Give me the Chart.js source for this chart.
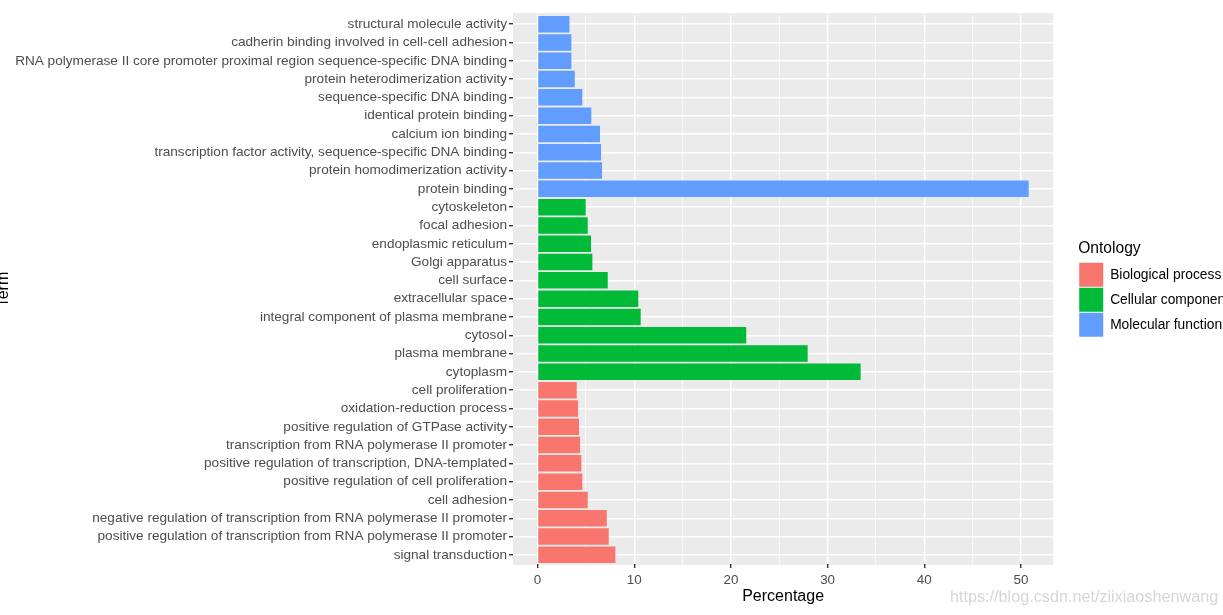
<!DOCTYPE html>
<html>
<head>
<meta charset="utf-8">
<script src="https://cdn.jsdelivr.net/npm/chart.js@4.4.1/dist/chart.umd.min.js"></script>
<style>
  html, body { margin: 0; padding: 0; background: #fff; overflow: hidden; }
  #wrap { position: relative; width: 1223px; height: 615px; overflow: hidden; }
  #mark { position: absolute; left: 950px; top: 587px; font: 16.2px "Liberation Sans", Arial, sans-serif; color: #d6d6d6; white-space: nowrap; }
</style>
</head>
<body>
<div id="wrap">
  <canvas id="myChart" width="1239" height="615"></canvas>
  <div id="mark">https://blog.csdn.net/ziixiaoshenwang</div>
</div>
<script>
// terms from top to bottom of the plot
const terms = [
    'structural molecule activity',
    'cadherin binding involved in cell-cell adhesion',
    'RNA polymerase II core promoter proximal region sequence-specific DNA binding',
    'protein heterodimerization activity',
    'sequence-specific DNA binding',
    'identical protein binding',
    'calcium ion binding',
    'transcription factor activity, sequence-specific DNA binding',
    'protein homodimerization activity',
    'protein binding',
    'cytoskeleton',
    'focal adhesion',
    'endoplasmic reticulum',
    'Golgi apparatus',
    'cell surface',
    'extracellular space',
    'integral component of plasma membrane',
    'cytosol',
    'plasma membrane',
    'cytoplasm',
    'cell proliferation',
    'oxidation-reduction process',
    'positive regulation of GTPase activity',
    'transcription from RNA polymerase II promoter',
    'positive regulation of transcription, DNA-templated',
    'positive regulation of cell proliferation',
    'cell adhesion',
    'negative regulation of transcription from RNA polymerase II promoter',
    'positive regulation of transcription from RNA polymerase II promoter',
    'signal transduction',
];

const ontology = [
    'Molecular function', 'Molecular function', 'Molecular function', 'Molecular function', 'Molecular function',
    'Molecular function', 'Molecular function', 'Molecular function', 'Molecular function', 'Molecular function',
    'Cellular component', 'Cellular component', 'Cellular component', 'Cellular component', 'Cellular component',
    'Cellular component', 'Cellular component', 'Cellular component', 'Cellular component', 'Cellular component',
    'Biological process', 'Biological process', 'Biological process', 'Biological process', 'Biological process',
    'Biological process', 'Biological process', 'Biological process', 'Biological process', 'Biological process',
];

const percentage = [
    3.3, 3.5, 3.5, 3.85, 4.63, 5.56, 6.46, 6.57, 6.67, 50.8,
    4.98, 5.19, 5.53, 5.67, 7.26, 10.42, 10.67, 21.59, 27.94, 33.42,
    4.05, 4.19, 4.29, 4.4, 4.53, 4.63, 5.19, 7.16, 7.36, 8.05,
];

const groups = ['Biological process', 'Cellular component', 'Molecular function'];
const groupColors = ['#F8766D', '#00BA38', '#619CFF'];

const xTicks = [0, 10, 20, 30, 40, 50];
const xMinorTicks = [5, 15, 25, 35, 45];

const FONT = '"Liberation Sans", Arial, sans-serif';

const datasets = groups.map((g, k) => ({
    label: g,
    data: percentage.map((v, i) => ontology[i] === g ? v : null),
    backgroundColor: groupColors[k],
    borderWidth: 0,
    grouped: false,
    barPercentage: 0.9,
    categoryPercentage: 1.0,
}));

// grey panel like ggplot
const panelBg = {
    id: 'panelBg',
    beforeDraw(chart) {
        const a = chart.chartArea;
        const ctx = chart.ctx;
        ctx.save();
        ctx.fillStyle = '#EBEBEB';
        ctx.fillRect(a.left, a.top - 2, a.right - a.left, a.bottom - a.top + 3);
        ctx.restore();
    }
};

const isMajor = v => xTicks.includes(v);

const config = {
    type: 'bar',
    data: { labels: terms, datasets: datasets },
    options: {
        indexAxis: 'y',
        responsive: false,
        animation: false,
        layout: { padding: { top: 15, left: -6, right: 0, bottom: 0 } },
        scales: {
            x: {
                type: 'linear',
                min: -2.54,
                max: 53.34,
                afterBuildTicks: axis => {
                    axis.ticks = xTicks.concat(xMinorTicks).sort((a, b) => a - b).map(v => ({ value: v }));
                },
                afterFit: s => { s.height = 51; },
                border: { display: false },
                grid: {
                    color: '#FFFFFF',
                    lineWidth: ctx => isMajor(ctx.tick.value) ? 1.4 : 0.7,
                    tickColor: ctx => isMajor(ctx.tick.value) ? '#333333' : 'rgba(0,0,0,0)',
                    tickLength: 4,
                },
                ticks: {
                    autoSkip: false,
                    maxRotation: 0,
                    padding: 4,
                    color: '#4D4D4D',
                    font: { family: FONT, size: 13.4 },
                    callback: v => isMajor(v) ? String(v) : '',
                },
                title: {
                    display: true,
                    text: 'Percentage',
                    color: '#000000',
                    font: { family: FONT, size: 16 },
                    padding: { top: 0, bottom: 9 },
                },
            },
            y: {
                type: 'category',
                afterFit: s => { s.width = 519; },
                border: { display: false },
                grid: {
                    offset: false,
                    color: '#FFFFFF',
                    lineWidth: 1.4,
                    tickColor: '#333333',
                    tickLength: 4,
                },
                ticks: {
                    autoSkip: false,
                    padding: 2,
                    color: '#4D4D4D',
                    font: { family: FONT, size: 13.6 },
                },
                title: {
                    display: true,
                    text: 'Term',
                    color: '#000000',
                    font: { family: FONT, size: 16 },
                    padding: { top: 0, bottom: 0 },
                },
            },
            // empty spacer between panel and legend
            gap: {
                type: 'linear',
                position: 'right',
                display: true,
                afterFit: s => { s.width = 25; },
                border: { display: false },
                grid: { display: false, drawTicks: false },
                ticks: { display: false },
            },
        },
        plugins: {
            tooltip: { enabled: false },
            legend: {
                position: 'right',
                align: 'center',
                fullSize: false,
                title: {
                    display: true,
                    text: 'Ontology',
                    position: 'start',
                    color: '#000000',
                    font: { family: FONT, size: 15.6 },
                    padding: { top: 0, bottom: 2 },
                },
                labels: {
                    boxWidth: 24,
                    boxHeight: 24,
                    padding: 1,
                    color: '#000000',
                    font: { family: FONT, size: 13.8 },
                },
            },
        },
    },
    plugins: [panelBg],
};

const myChart = new Chart(document.getElementById('myChart'), config);
</script>
</body>
</html>
